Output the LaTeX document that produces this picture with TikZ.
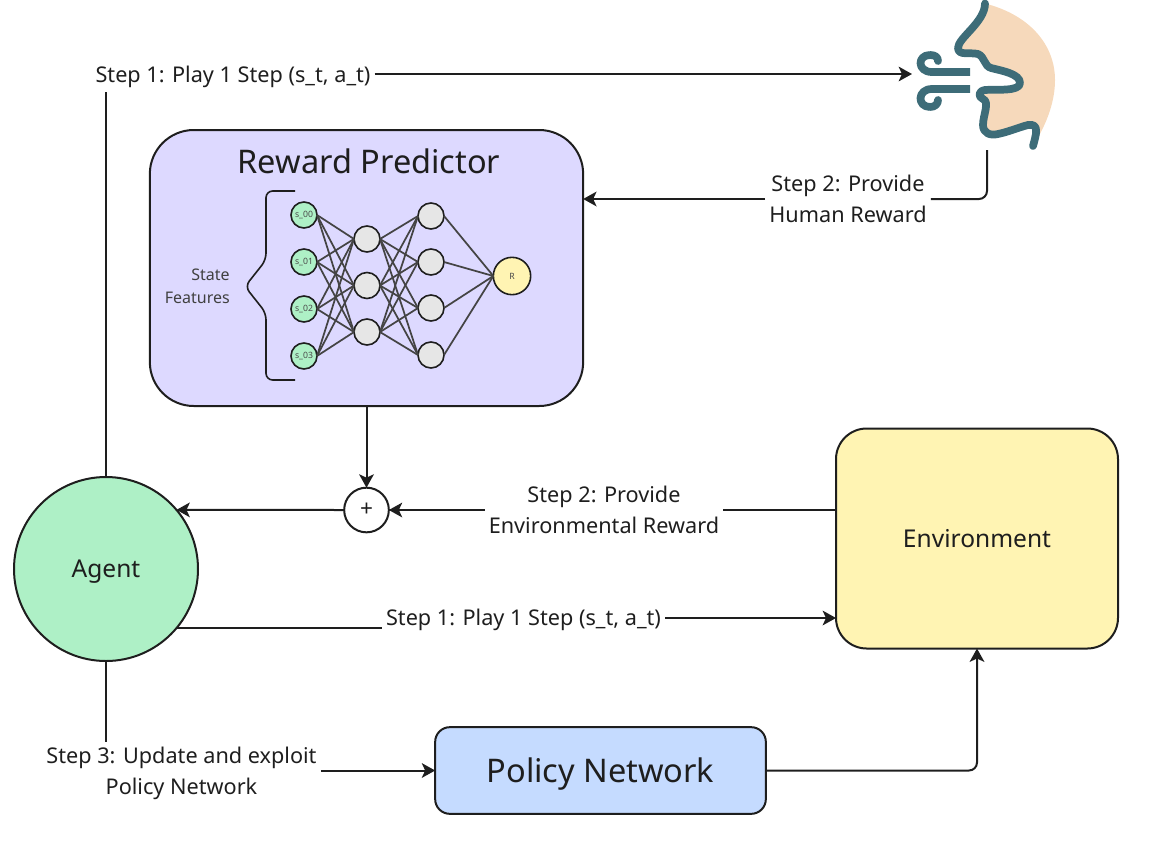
\documentclass[tikz,border=0pt]{standalone}
\usepackage{fontspec}
\setmainfont{Noto Sans}
\usetikzlibrary{arrows.meta}
\definecolor{inkc}{HTML}{1E1E1E}
\definecolor{agentc}{HTML}{AEF0C6}
\definecolor{envc}{HTML}{FFF4B3}
\definecolor{policyc}{HTML}{C5DBFF}
\definecolor{rewardc}{HTML}{DDD9FF}
\definecolor{hiddenc}{HTML}{E6E6E6}
\definecolor{skinc}{HTML}{F6D9BB}
\definecolor{tealc}{HTML}{3D6C78}
\definecolor{linkc}{HTML}{444444}
\newcommand{\faceline}{(985,3.5) .. controls (985,22) and (958,38) .. (958,48) .. controls (958,56) and (970,52) .. (978,54) .. controls (985,57) and (984,66) .. (991,68) .. controls (1003,71) and (1020,74) .. (1020,83) .. controls (1020,92) and (995,89) .. (985,90) .. controls (978,91) and (978,97) .. (983,99) .. controls (990,102) and (983,115) .. (983,125) .. controls (983,133) and (990,136) .. (998,134) .. controls (1008,132) and (1020,127) .. (1028,125) .. controls (1040,123) and (1036,135) .. (1033,146)}
\tikzset{
  flow/.style={draw=inkc,line width=1.5pt},
  steplabel/.style={align=center,text=inkc,inner sep=3pt,font=\fontsize{16.25}{23.2}\selectfont},
  bigbox/.style={draw=inkc,line width=1.5pt,text=inkc,outer sep=0pt,inner sep=0pt},
  neuron/.style={circle,draw=inkc,line width=1.2pt,minimum size=19.5pt,inner sep=0pt,outer sep=0pt,text=inkc!80,font=\fontsize{6.5}{7}\selectfont},
  nnlink/.style={draw=linkc,line width=1.3pt},
  facepath/.style={draw=tealc,line width=5.8pt,line cap=round,line join=round}
}
\begin{document}
\begin{tikzpicture}[x=0.75pt,y=-0.75pt,>={Stealth[length=10pt,width=11pt,inset=2.5pt]}]
  \useasboundingbox (0,0) rectangle (1156,864);

  \node[bigbox,circle,fill=agentc,minimum size=138pt,text depth=0pt,font=\fontsize{18.4}{20}\selectfont] (agent) at (106,569) {Agent};
  \node[bigbox,rounded corners=33pt,fill=rewardc,minimum width=325pt,minimum height=207pt] (reward) at (366.5,268) {};
  \node[bigbox,rounded corners=23pt,fill=envc,minimum width=211.5pt,minimum height=165pt,font=\fontsize{18.4}{20}\selectfont] (env) at (977,538.5) {Environment};
  \node[bigbox,rounded corners=11pt,fill=policyc,minimum width=248pt,minimum height=65pt,text depth=0pt,font=\fontsize{24.4}{28}\selectfont] (policy) at (600.5,770.5) {Policy Network};
  \node[bigbox,circle,minimum size=33.5pt,font=\fontsize{17}{15}\selectfont] (plus) at (366.5,510) {+};

  \node[text=inkc,font=\fontsize{24.4}{28}\selectfont] (rewardtitle) at (369,161) {Reward Predictor};
  \node[text=inkc!85,align=right,anchor=east,inner sep=0pt,font=\fontsize{12}{17}\selectfont] (statelabel) at (230,286) {State\\Features};

  \node[neuron,fill=agentc] (s0) at (304,215) {s\_00};
  \node[neuron,fill=agentc] (s1) at (304,262) {s\_01};
  \node[neuron,fill=agentc] (s2) at (304,309) {s\_02};
  \node[neuron,fill=agentc] (s3) at (304,356) {s\_03};
  \node[neuron,fill=hiddenc] (a0) at (367,239) {};
  \node[neuron,fill=hiddenc] (a1) at (367,285.5) {};
  \node[neuron,fill=hiddenc] (a2) at (367,332) {};
  \node[neuron,fill=hiddenc] (b0) at (431,216) {};
  \node[neuron,fill=hiddenc] (b1) at (431,262) {};
  \node[neuron,fill=hiddenc] (b2) at (431,308) {};
  \node[neuron,fill=hiddenc] (b3) at (431,355) {};
  \node[neuron,fill=envc,minimum size=28pt] (out) at (512,276) {R};

  \path[nnlink] (a0.west) edge (s0.east) edge (s1.east) edge (s2.east) edge (s3.east);
  \path[nnlink] (a1.west) edge (s0.east) edge (s1.east) edge (s2.east) edge (s3.east);
  \path[nnlink] (a2.west) edge (s0.east) edge (s1.east) edge (s2.east) edge (s3.east);
  \path[nnlink] (b0.west) edge (a0.east) edge (a1.east) edge (a2.east);
  \path[nnlink] (b1.west) edge (a0.east) edge (a1.east) edge (a2.east);
  \path[nnlink] (b2.west) edge (a0.east) edge (a1.east) edge (a2.east);
  \path[nnlink] (b3.west) edge (a0.east) edge (a1.east) edge (a2.east);
  \path[nnlink] (out.west) edge (b0.east) edge (b1.east) edge (b2.east) edge (b3.east);

  \draw[draw=inkc,line width=1.2pt,rounded corners=5pt] (295,191) -- (266,191) -- (266,260) -- (245,286.5) -- (266,313) -- (266,380) -- (295,380);

  \fill[skinc] \faceline .. controls (1048,122) and (1055,100) .. (1055,80) .. controls (1055,45) and (1030,15) .. (985,3.5) -- cycle;
  \draw[facepath] \faceline;
  \draw[facepath,line cap=butt] (970,72) -- (932,72) .. controls (917,72) and (917,55) .. (930,55);
  \draw[facepath] (930,55) .. controls (935,55) and (938,57) .. (938,61);
  \draw[facepath,line cap=butt] (970,89) -- (932,89) .. controls (917,89) and (917,107) .. (930,107);
  \draw[facepath] (930,107) .. controls (935,107) and (938,104) .. (938,100);

  \coordinate (facein) at (912,74);
  \coordinate (faceout) at (987,150);
  \coordinate (envin) at (836,618);

  \node[steplabel] (stepplay) at (233,76.5) {Step 1: Play 1 Step (s\_t, a\_t)};
  \node[steplabel] (stephuman) at (848,199) {Step 2: Provide\\Human Reward};
  \node[steplabel] (stepenv) at (604,510) {Step 2: Provide\\Environmental Reward};
  \node[steplabel] (stepact) at (523.5,620) {Step 1: Play 1 Step (s\_t, a\_t)};
  \node[steplabel] (stepupdate) at (181.5,773) {Step 3: Update and exploit\\Policy Network};

  \draw[flow] (agent.north) -- (agent.north |- stepplay.south);
  \draw[flow,->] (stepplay.east |- facein) -- (facein);
  \draw[flow,rounded corners=6pt] (faceout) -- (faceout |- stephuman.east) -- (stephuman.east);
  \draw[flow,->] (stephuman.west) -- (stephuman.west -| reward.east);
  \draw[flow,->] (reward.south) -- (plus.north);
  \draw[flow,->] (plus.west) -- (agent.40);
  \draw[flow] (plus.east -| env.west) -- (stepenv.east);
  \draw[flow,->] (stepenv.west) -- (plus.east);
  \draw[flow] (agent.-40) -- (agent.-40 -| stepact.west);
  \draw[flow,->] (stepact.east |- envin) -- (envin);
  \draw[flow] (agent.south) -- (agent.south |- stepupdate.north);
  \draw[flow,->] (stepupdate.east |- policy.west) -- (policy.west);
  \draw[flow,->,rounded corners=6pt] (policy.east) -- (policy.east -| env.south) -- (env.south);
\end{tikzpicture}
\end{document}
